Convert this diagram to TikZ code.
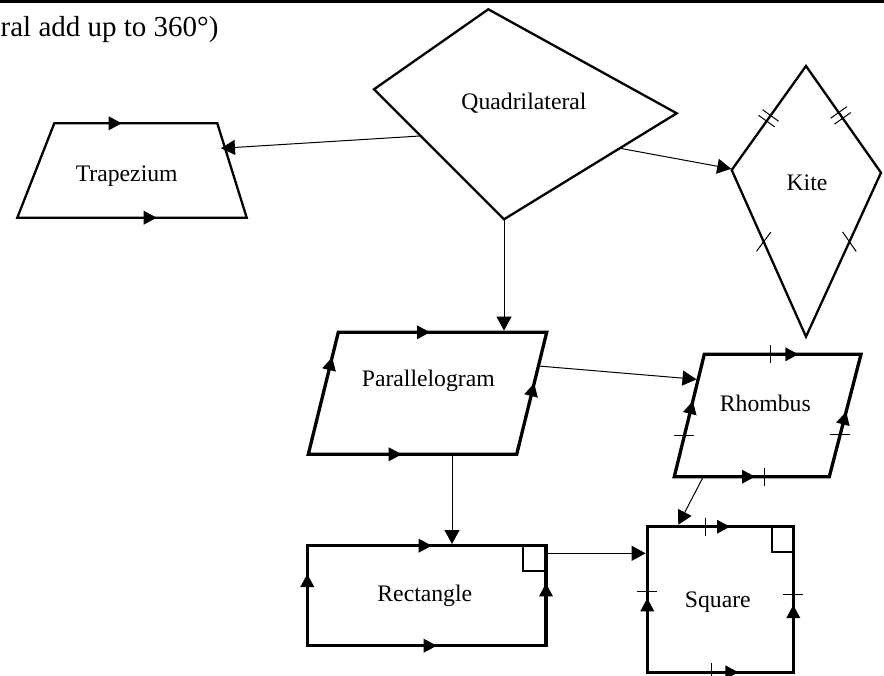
\documentclass[tikz,border=0pt]{standalone}
\usepackage{fontspec}
\setmainfont{Liberation Serif}
\usetikzlibrary{arrows.meta,calc}
\begin{document}
\begin{tikzpicture}[x=1pt,y=-1pt,
  outline/.style={line width=2.3pt,line join=miter},
  heavy/.style={line width=3.3pt,line join=miter},
  link/.style={line width=1pt,-{Triangle[length=14pt,width=15pt]}},
  tickline/.style={line width=1pt},
  boxline/.style={line width=2pt},
  caption/.style={font=\fontsize{23.7}{28}\selectfont,inner sep=0pt,anchor=base},
  etip/.pic={\fill (0,0) -- (-13,7) -- (-13,-7) -- cycle;}
]
\useasboundingbox (0,0) rectangle (884,676);

% rule and running text at the top
\draw[line width=2.6pt] (0,1.6) -- (884,1.6);
\node[inner sep=0pt,anchor=base west,font=\fontsize{29}{34}\selectfont] (note) at (0.5,36.5) {ral add up to 360°)};

% ---------- vertices ----------
\coordinate (qT) at (488.3,9.3);   \coordinate (qL) at (374,89.3);
\coordinate (qR) at (676.7,113.3); \coordinate (qB) at (504,219.3);

\coordinate (tTL) at (54.3,123.3);  \coordinate (tTR) at (217.3,123.3);
\coordinate (tBR) at (246.7,217.7); \coordinate (tBL) at (17.3,217.7);

\coordinate (kT) at (806,66);   \coordinate (kL) at (731.7,170);
\coordinate (kR) at (881,172.7); \coordinate (kB) at (806,336.7);

\coordinate (pTL) at (338.3,332.3); \coordinate (pTR) at (546.7,332.3);
\coordinate (pBR) at (516.7,454.3); \coordinate (pBL) at (308.3,454.3);

\coordinate (hTL) at (704.3,354.3); \coordinate (hTR) at (861,354.3);
\coordinate (hBR) at (829.3,476.7); \coordinate (hBL) at (674.3,476.7);

\coordinate (cTL) at (307.3,545.7); \coordinate (cTR) at (546,545.7);
\coordinate (cBR) at (546,645.7);   \coordinate (cBL) at (307.3,645.7);

\coordinate (sTL) at (647.3,526.7); \coordinate (sTR) at (793.3,526.7);
\coordinate (sBR) at (793.3,672.3); \coordinate (sBL) at (647.3,672.3);

% ---------- outlines ----------
\draw[outline] (qT) -- (qR) -- (qB) -- (qL) -- cycle;
\draw[outline] (tTL) -- (tTR) -- (tBR) -- (tBL) -- cycle;
\draw[outline] (kT) -- (kR) -- (kB) -- (kL) -- cycle;
\draw[heavy] (pTL) -- (pTR) -- (pBR) -- (pBL) -- cycle;
\draw[heavy] (hTL) -- (hTR) -- (hBR) -- (hBL) -- cycle;
\draw[heavy] (cTL) -- (cTR) -- (cBR) -- (cBL) -- cycle;
\draw[heavy] (sTL) -- (sTR) -- (sBR) -- (sBL) -- cycle;

% right-angle boxes
\draw[boxline] (522.7,545.7) -- (522.7,570.7) -- (546,570.7);
\draw[boxline] (772.3,526.7) -- (772.3,551.7) -- (793.3,551.7);

% ---------- parallel-side arrows ----------
\pic at (121.7,123.3) {etip};
\pic at (156.7,217.7) {etip};

\pic at (430,332.3) {etip};
\pic at (401.7,454.3) {etip};
\pic[rotate=76.2] at ($(pBL)!0.795!(pTL)$) {etip};
\pic[rotate=76.2] at ($(pBR)!0.582!(pTR)$) {etip};

\pic at (798.3,354.3) {etip};
\pic at (755,476.7) {etip};
\pic[rotate=76.2] at ($(hBL)!0.618!(hTL)$) {etip};
\pic[rotate=75.5] at ($(hBR)!0.531!(hTR)$) {etip};

\pic at (431.7,545.7) {etip};
\pic at (436.7,645.7) {etip};
\pic[rotate=90] at (307.3,574) {etip};
\pic[rotate=90] at (546,583.3) {etip};

\pic at (730,526.7) {etip};
\pic at (738.3,672.3) {etip};
\pic[rotate=90] at (647.3,598.3) {etip};
\pic[rotate=90] at (793.3,605) {etip};

% ---------- equal-side ticks ----------
% kite: double ticks on the upper sides
\draw[tickline] ($(768.6,118.3)+(2.0,-2.8)+(-8.1,-5.8)$) -- ++(16.2,11.6);
\draw[tickline] ($(768.6,118.3)+(-2.0,2.8)+(-8.1,-5.8)$) -- ++(16.2,11.6);
\draw[tickline] ($(840.7,115.4)+(2.0,2.9)+(-8.2,5.8)$) -- ++(16.4,-11.6);
\draw[tickline] ($(840.7,115.4)+(-2.0,-2.9)+(-8.2,5.8)$) -- ++(16.4,-11.6);
% kite: single ticks on the lower sides
\draw[tickline] (756.5,251.3) -- (770.9,232.1);
\draw[tickline] (842.6,231.9) -- (856.2,251.5);

% rhombus
\draw[tickline] (770,345.3) -- (770,363.3);
\draw[tickline] (764.3,467.7) -- (764.3,485.7);
\draw[tickline] ($(hBL)!0.333!(hTL)$) ++(-10,0) -- ++(20,0);
\draw[tickline] ($(hBR)!0.346!(hTR)$) ++(-10,0) -- ++(20,0);

% square
\draw[tickline] (705,517.7) -- (705,535.7);
\draw[tickline] (711,663.3) -- (711,676);
\draw[tickline] (637.3,591) -- (657.3,591);
\draw[tickline] (783.3,594) -- (803.3,594);

% ---------- labels ----------
\node[caption] (quad) at (524,109.3) {Quadrilateral};
\node[caption] (trap) at (126.7,181.7) {Trapezium};
\node[caption] (kite) at (807,190.7) {Kite};
\node[caption] (para) at (428.3,386.7) {Parallelogram};
\node[caption] (rhom) at (765.3,411) {Rhombus};
\node[caption] (rect) at (424.8,601.7) {Rectangle};
\node[caption] (sqre) at (717.8,607.3) {Square};

% ---------- connectors ----------
\coordinate (q2t) at (420,136);     \coordinate (t-in) at (221,148.3);
\coordinate (q2k) at (620,148.3);   \coordinate (k-in) at (731.2,168.8);
\coordinate (q2p) at (504,219.3);   \coordinate (p-in) at (504,330.6);
\coordinate (p2h) at (538.4,366);   \coordinate (h-in) at (696.5,379.3);
\coordinate (p2c) at (452,454.3);   \coordinate (c-in) at (452,544);
\coordinate (h2s) at (703.3,476.7); \coordinate (s-in1) at (678.3,524.8);
\coordinate (c2s) at (546,553.3);   \coordinate (s-in2) at (645.6,553.3);

\draw[link] (q2t) -- (t-in);
\draw[link] (q2k) -- (k-in);
\draw[link] (q2p) -- (p-in);
\draw[link] (p2h) -- (h-in);
\draw[link] (p2c) -- (c-in);
\draw[link] (h2s) -- (s-in1);
\draw[link] (c2s) -- (s-in2);
\end{tikzpicture}
\end{document}
